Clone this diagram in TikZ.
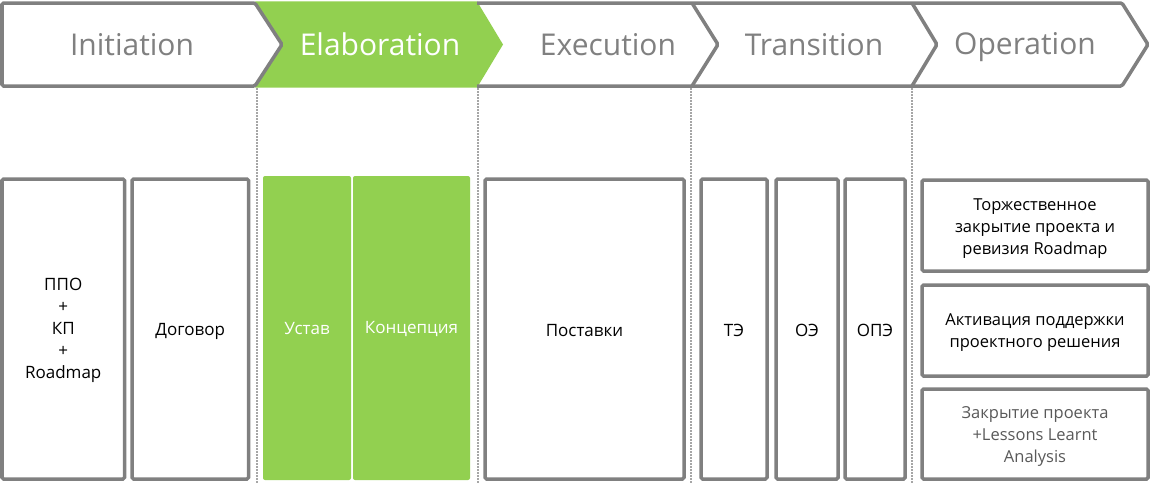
\documentclass[tikz,border=0pt]{standalone}
\usepackage{fontspec}
\setmainfont{Open Sans}
\usetikzlibrary{calc}
\definecolor{edge}{HTML}{808080}
\definecolor{leaf}{HTML}{92D050}
\definecolor{dotline}{HTML}{A6A6A6}
\definecolor{softtext}{HTML}{595959}
\tikzset{
  head/.style={font=\fontsize{30}{34}\selectfont, text=edge, inner sep=0pt, anchor=base},
  headw/.style={head, text=white},
  stage/.style={draw=edge, line width=3.5pt, rounded corners=1.5pt},
  box/.style={draw=edge, line width=3.5pt, rounded corners=1.5pt, anchor=north west, outer sep=0pt, inner sep=0pt},
  gbox/.style={fill=leaf, rounded corners=2pt, anchor=north west, outer sep=0pt, inner sep=0pt},
  txt/.style={align=center, inner sep=0pt, font=\fontsize{17}{22}\selectfont, text=black},
  otxt/.style={txt, font=\fontsize{16.5}{22}\selectfont},
  gtxt/.style={txt, text=white},
  sep/.style={draw=dotline, line width=1.5pt, dash pattern=on 1.5pt off 1.5pt},
}
\begin{document}
\begin{tikzpicture}[x=1pt,y=-1pt]
\useasboundingbox (0,0) rectangle (1150,483);
% green elaboration chevron
\fill[leaf] (255,1.3) -- (477,1.3) -- (503,44.5) -- (477,87.7) -- (255,87.7) -- (282,44.5) -- cycle;
% initiation chevron
\draw[stage, fill=white] (2,3) -- (255,3) -- (282,44.5) -- (255,86) -- (2,86) -- cycle;
% remaining chevron band
\draw[stage] (477,3) -- (1122,3) -- (1148,44.5) -- (1122,86) -- (477,86);
\draw[stage] (692,3) -- (718,44.5) -- (692,86);
\draw[stage] (912,3) -- (937,44.5) -- (912,86);
% header labels
\node[head] (hini) at (132,55) {Initiation};
\node[headw] (hela) at (380,55) {Elaboration};
\node[head] (hexe) at (608,55) {Execution};
\node[head] (htra) at (814,55) {Transition};
\node[head] (hope) at (1025,54) {Operation};
% dotted separators
\coordinate (s1a) at (257,88); \coordinate (s1b) at (257,483);
\coordinate (s2a) at (478,88); \coordinate (s2b) at (478,483);
\coordinate (s3a) at (691,88); \coordinate (s3b) at (691,483);
\coordinate (s4a) at (912,88); \coordinate (s4b) at (912,483);
\draw[sep] (s1a) -- (s1b);
\draw[sep] (s2a) -- (s2b);
\draw[sep] (s3a) -- (s3b);
\draw[sep] (s4a) -- (s4b);
% boxes
\node[box, minimum width=122.5pt, minimum height=300pt] (b1) at (2,179) {};
\node[box, minimum width=116.5pt, minimum height=300pt] (b2) at (132,179) {};
\node[gbox, minimum width=88pt, minimum height=304pt] (g1) at (263,176) {};
\node[gbox, minimum width=117pt, minimum height=304pt] (g2) at (353,176) {};
\node[box, minimum width=199pt, minimum height=300pt] (b3) at (485,179) {};
\node[box, minimum width=66pt, minimum height=300pt] (b4) at (701,179) {};
\node[box, minimum width=62pt, minimum height=300pt] (b5) at (776,179) {};
\node[box, minimum width=60pt, minimum height=300pt] (b6) at (845,179) {};
\node[box, minimum width=226pt, minimum height=91pt] (o1) at (922,180) {};
\node[box, minimum width=226pt, minimum height=91pt] (o2) at (922,285) {};
\node[box, minimum width=226pt, minimum height=90pt] (o3) at (922,389) {};
% box texts
\node[txt] (t1) at ($(b1.center)+(0,1.5)$) {ППО\\+\\КП\\+\\Roadmap};
\node[txt] (t2) at ($(b2.center)+(0,2.5)$) {Договор};
\node[gtxt] (t3) at ($(g1.center)+(0,1)$) {Устав};
\node[gtxt] (t4) at ($(g2.center)+(0,1)$) {Концепция};
\node[txt] (t5) at ($(b3.center)+(0,1.5)$) {Поставки};
\node[txt] (t6) at ($(b4.center)+(0,1.5)$) {ТЭ};
\node[txt] (t7) at ($(b5.center)+(0,1.5)$) {ОЭ};
\node[txt] (t8) at ($(b6.center)+(0,1.5)$) {ОПЭ};
\node[otxt] (t9) at ($(o1.center)+(0,3)$) {Торжественное\\закрытие проекта и\\ревизия Roadmap};
\node[otxt] (t10) at ($(o2.center)+(0,2.5)$) {Активация поддержки\\проектного решения};
\node[otxt, text=softtext] (t11) at ($(o3.center)+(0,2.5)$) {Закрытие проекта\\+Lessons Learnt\\Analysis};
\end{tikzpicture}
\end{document}
